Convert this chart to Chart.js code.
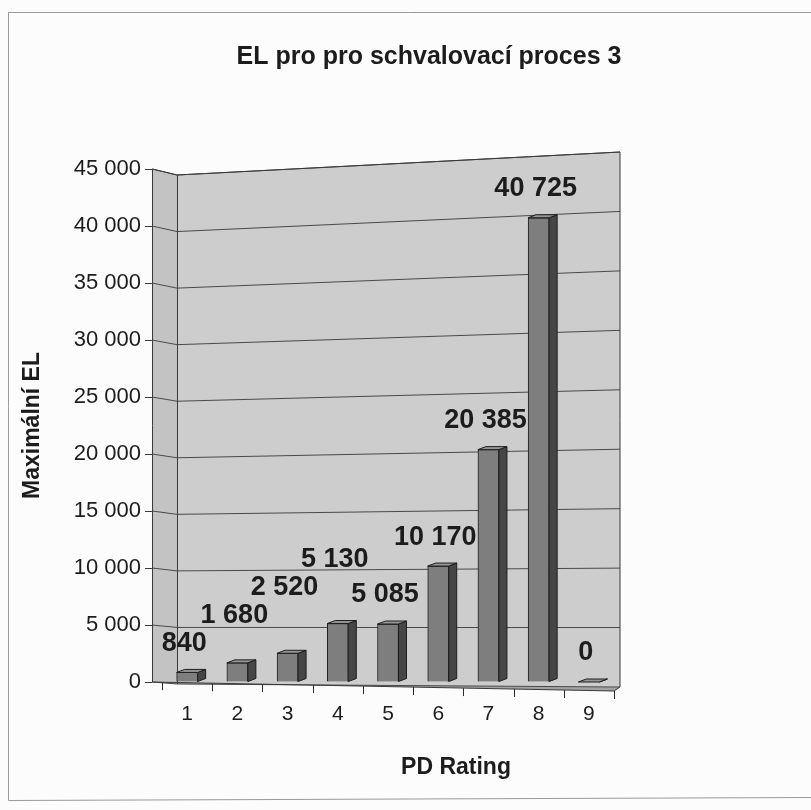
<!DOCTYPE html>
<html>
<head>
<meta charset="utf-8">
<title>EL pro pro schvalovací proces 3</title>
<script src="https://cdn.jsdelivr.net/npm/chart.js@4.4.0/dist/chart.umd.min.js"></script>
<style>
  html, body { margin: 0; padding: 0; background: #fcfcfc; }
  #wrap { width: 811px; height: 810px; }
</style>
</head>
<body>
<div id="wrap"><canvas id="c" width="811" height="810"></canvas></div>
<script>
// PD rating classes and the maximal expected loss for each of them
const categories = ['1', '2', '3', '4', '5', '6', '7', '8', '9'];
const maxEL = [840, 1680, 2520, 5130, 5085, 10170, 20385, 40725, 0];
const yTickValues = [0, 5000, 10000, 15000, 20000, 25000, 30000, 35000, 40000, 45000];

const chartTitle = 'EL pro pro schvalovací proces 3';
const xTitle = 'PD Rating';
const yTitle = 'Maximální EL';

const FONT = "'Liberation Sans', Arial, Helvetica, sans-serif";
const TEXT = '#1c1c1c';

// "45000" -> "45 000"
const fmt = v => String(v).replace(/\B(?=(\d{3})+(?!\d))/g, ' ');

// depth of the pseudo-3D box
const WALL_DEPTH = 25;
const BAR_DX = 8, BAR_DY = -3;

function poly(ctx, pts, fill, stroke) {
  ctx.beginPath();
  ctx.moveTo(pts[0][0], pts[0][1]);
  for (let i = 1; i < pts.length; i++) ctx.lineTo(pts[i][0], pts[i][1]);
  ctx.closePath();
  if (fill) { ctx.fillStyle = fill; ctx.fill(); }
  if (stroke) { ctx.strokeStyle = stroke; ctx.lineWidth = 1; ctx.stroke(); }
}

// Walls, floor and gridlines of the box, drawn before the scales and bars
const box3d = {
  id: 'box3d',
  beforeDraw(chart) {
    const { ctx, chartArea: a, scales: { x, y } } = chart;
    ctx.save();
    ctx.fillStyle = '#fcfcfc';
    ctx.fillRect(0, 0, chart.width, chart.height);

    // outer frame of the chart object
    ctx.strokeStyle = '#9a9a9a';
    ctx.lineWidth = 1;
    ctx.beginPath();
    ctx.moveTo(8.5, 800.5); ctx.lineTo(8.5, 12.5); ctx.lineTo(811, 12.5);
    ctx.moveTo(8.5, 800.5); ctx.lineTo(811, 797.5);
    ctx.stroke();

    const top = y.max;
    const x0 = a.left, x1 = a.left + WALL_DEPTH, x2 = a.right;
    const yF = v => y.getPixelForValue(v);                    // front edge of the left wall
    const yL = v => y.getPixelForValue(v) + 2 + 4 * v / top;  // back-left corner
    const yR = v => y.getPixelForValue(v) + 5 - 22 * v / top; // back-right corner
    const xf = x.getPixelForValue(9.5);

    // left wall
    poly(ctx, [[x0, yF(top)], [x1, yL(top)], [x1, yL(0)], [x0, yF(0)]], '#c3c3c3');
    // back wall
    poly(ctx, [[x1, yL(top)], [x2, yR(top)], [x2, yR(0)], [x1, yL(0)]], '#cdcdcd');
    // floor
    poly(ctx, [[x0, yF(0)], [x1, yL(0)], [x2, yR(0)], [xf, yF(0) + 9]], '#a3a3a3');

    // gridlines along both walls
    ctx.strokeStyle = '#4a4a4a';
    ctx.lineWidth = 1;
    y.ticks.forEach(t => {
      const v = t.value;
      ctx.beginPath();
      ctx.moveTo(x0, yF(v));
      ctx.lineTo(x1, yL(v));
      ctx.lineTo(x2, yR(v));
      ctx.stroke();
    });

    // wall edges
    ctx.strokeStyle = '#3a3a3a';
    ctx.beginPath();
    ctx.moveTo(x0 + 0.5, yF(0)); ctx.lineTo(x0 + 0.5, yF(top)); ctx.lineTo(x1, yL(top));
    ctx.lineTo(x2, yR(top)); ctx.lineTo(x2, yR(0));
    ctx.moveTo(x1 + 0.5, yL(top)); ctx.lineTo(x1 + 0.5, yL(0));
    ctx.moveTo(x0, yF(0)); ctx.lineTo(xf, yF(0) + 9); ctx.lineTo(x2, yR(0));
    ctx.stroke();

    // category tick marks along the front edge of the floor
    ctx.strokeStyle = '#2a2a2a';
    for (let k = 0; k <= categories.length; k++) {
      const px = x.getPixelForValue(k + 0.5);
      const py = yF(0) + 9 * (px - x0) / (xf - x0);
      ctx.beginPath();
      ctx.moveTo(Math.round(px) + 0.5, py);
      ctx.lineTo(Math.round(px) + 0.5, py + 8);
      ctx.stroke();
    }
    ctx.restore();
  },

  // side and top faces of the bars, then the value labels
  afterDatasetsDraw(chart) {
    const { ctx } = chart;
    const meta = chart.getDatasetMeta(0);
    ctx.save();
    ctx.lineWidth = 1;
    meta.data.forEach(bar => {
      const { x, y, base, width } = bar.getProps(['x', 'y', 'base', 'width'], true);
      const l = x - width / 2, r = x + width / 2;
      poly(ctx, [[r, y], [r + BAR_DX, y + BAR_DY], [r + BAR_DX, base + BAR_DY], [r, base]], '#464646', '#1e1e1e');
      poly(ctx, [[l, y], [l + BAR_DX, y + BAR_DY], [r + BAR_DX, y + BAR_DY], [r, y]], '#959595', '#1e1e1e');
    });

    ctx.font = 'bold 27px ' + FONT;
    ctx.fillStyle = TEXT;
    ctx.textAlign = 'center';
    ctx.textBaseline = 'middle';
    const placed = [];
    const h = 22;
    meta.data.forEach((bar, i) => {
      const { x, y } = bar.getProps(['x', 'y'], true);
      const text = fmt(maxEL[i]);
      const w = ctx.measureText(text).width;
      const cx = x - 3;
      let cy = y + BAR_DY - 26;
      // lift a label that would collide with one already drawn
      let moved = true;
      while (moved) {
        moved = false;
        for (const b of placed) {
          const overlapX = Math.abs(cx - b.cx) < (w + b.w) / 2;
          const overlapY = Math.abs(cy - b.cy) < h + 2;
          if (overlapX && overlapY) { cy = b.cy - h - 6; moved = true; }
        }
      }
      placed.push({ cx, cy, w });
      ctx.fillText(text, cx, cy);
    });
    ctx.restore();
  },

  afterDraw(chart) {
    const { ctx } = chart;
    ctx.save();
    ctx.fillStyle = TEXT;
    ctx.textAlign = 'center';
    ctx.textBaseline = 'middle';
    ctx.font = 'bold 25px ' + FONT;
    ctx.fillText(chartTitle, 429, 57);
    ctx.font = 'bold 23px ' + FONT;
    ctx.fillText(xTitle, 456, 768);
    ctx.restore();
  }
};

Chart.defaults.font.family = FONT;
Chart.defaults.color = TEXT;

new Chart(document.getElementById('c'), {
  type: 'bar',
  data: {
    datasets: [{
      label: yTitle,
      data: categories.map((c, i) => ({ x: Number(c), y: maxEL[i] })),
      backgroundColor: '#7e7e7e',
      borderColor: '#1e1e1e',
      borderWidth: 1,
      barThickness: 21
    }]
  },
  options: {
    responsive: false,
    animation: false,
    devicePixelRatio: 1,
    layout: { padding: { top: 169, left: 12, right: 191, bottom: 20 } },
    plugins: {
      legend: { display: false },
      title: { display: false },
      tooltip: { enabled: false }
    },
    scales: {
      x: {
        type: 'linear',
        offset: false,
        min: 0.3,
        max: 9.62,
        afterBuildTicks: s => { s.ticks = categories.map(c => ({ value: Number(c) })); },
        afterFit: s => { s.height = 108; },
        ticks: {
          autoSkip: false,
          padding: 20,
          font: { size: 21 },
          color: TEXT,
          callback: v => String(v)
        },
        grid: { display: false, drawTicks: false },
        border: { display: false }
      },
      y: {
        min: 0,
        max: 45000,
        afterBuildTicks: s => { s.ticks = yTickValues.map(v => ({ value: v })); },
        afterFit: s => { s.width = 140; },
        ticks: {
          padding: 4,
          font: { size: 22 },
          color: TEXT,
          callback: v => fmt(v)
        },
        grid: { drawOnChartArea: false, drawTicks: true, tickLength: 7, color: '#3a3a3a' },
        border: { display: false },
        title: {
          display: true,
          text: yTitle,
          font: { size: 23, weight: 'bold' },
          color: TEXT,
          padding: { top: 7, bottom: 0 }
        }
      }
    }
  },
  plugins: [box3d]
});
</script>
</body>
</html>
